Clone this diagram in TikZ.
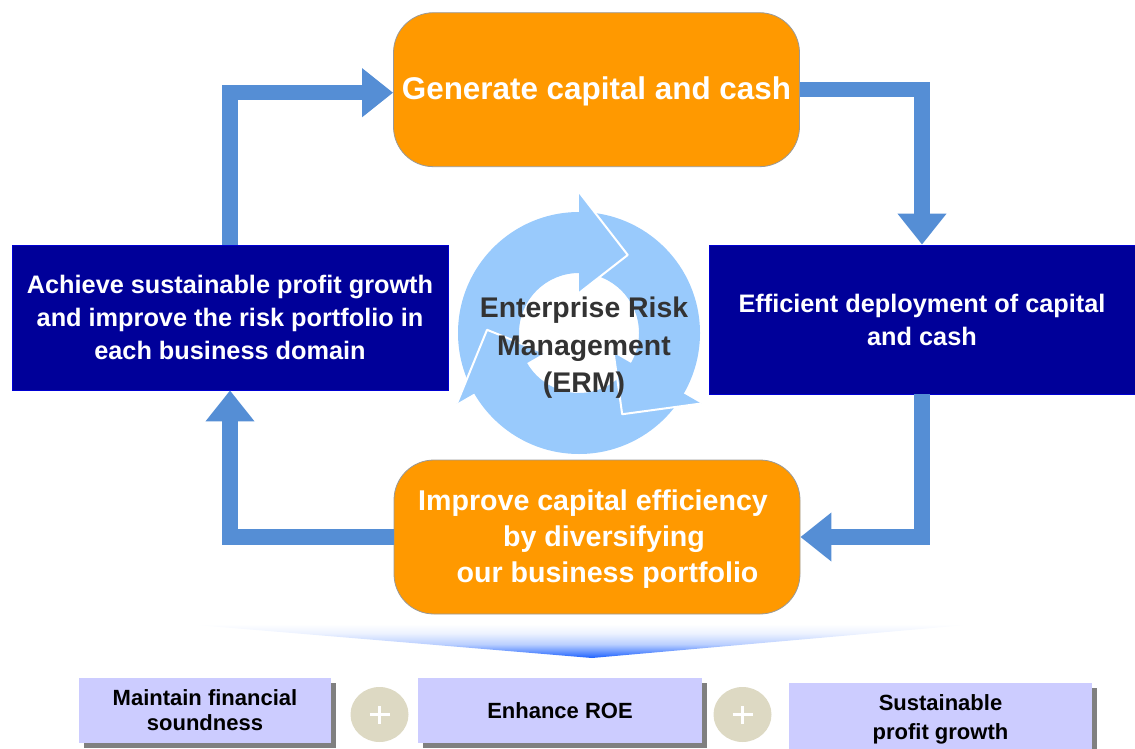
\documentclass[tikz,border=0pt]{standalone}
\usepackage{fontspec}
\setmainfont{Liberation Sans}
\usetikzlibrary{arrows.meta,shadows,shapes.geometric}

\definecolor{boxorange}{HTML}{FF9900}
\definecolor{boxnavy}{HTML}{000099}
\definecolor{flowblue}{HTML}{558ED5}
\definecolor{ringblue}{RGB}{153,202,252}
\definecolor{goalfill}{HTML}{CCCCFF}
\definecolor{plusfill}{HTML}{DDD9C3}
\definecolor{shadowgray}{HTML}{808080}
\definecolor{fanblue}{RGB}{25,95,255}
\definecolor{ermtext}{HTML}{333333}

% white at the top, deep blue at the point of the fan
\pgfdeclareverticalshading{fanshade}{100bp}{color(0bp)=(fanblue); color(25bp)=(fanblue); color(30bp)=(fanblue!75!white); color(40bp)=(fanblue!30!white); color(52bp)=(fanblue!8!white); color(62bp)=(white); color(100bp)=(white)}

\tikzset{
  obox/.style={draw=black!40, line width=0.8pt, fill=boxorange, rounded corners=40pt,
    minimum width=406pt, minimum height=154pt, inner sep=0pt, text=white, align=center},
  nbox/.style={draw=blue!55!boxnavy, line width=0.8pt, fill=boxnavy, inner sep=0pt,
    text=white, align=center, font=\bfseries\fontsize{25.3}{33}\selectfont},
  flow/.style={draw=flowblue, line width=15.6pt, line join=miter,
    -{Triangle[length=31pt, width=47pt]}},
  goal/.style={fill=goalfill, inner sep=0pt, align=center, text=black,
    drop shadow={shadow xshift=4.5pt, shadow yshift=-5pt, fill=shadowgray, opacity=1}},
  plusdisc/.style={ellipse, fill=plusfill, minimum width=58pt, minimum height=55pt, inner sep=0pt},
}

\begin{document}
\begin{tikzpicture}[x=1pt, y=-1pt]
\useasboundingbox (0,0) rectangle (1135,749);

% fan pointing down to the three goals
\shade[shading=fanshade] (160,612) -- (1000,612) -- (1000,622) -- (592,658) -- (160,622) -- cycle;

% cycle stages
\node[obox, text height=23pt, text depth=2.4pt, font=\bfseries\fontsize{31.4}{36}\selectfont] (tbox) at (596.5,89.7)
  {Generate capital and cash};
\node[obox, text depth=2pt, font=\bfseries\fontsize{28.6}{36}\selectfont] (bbox) at (597,537)
  {Improve capital efficiency\hspace*{8pt}\\\hspace*{14pt}by diversifying\\\hspace*{21pt}our business portfolio};
\node[nbox, minimum width=436pt, minimum height=145pt] (lbox) at (230,317.5)
  {Achieve sustainable profit growth\\and improve the risk portfolio in\\each business domain};
\node[nbox, minimum width=426pt, minimum height=149pt] (rbox) at (922,319.5)
  {Efficient deployment of capital\\and cash};

% ERM ring of three arrows running clockwise
\begin{scope}[shift={(579,333)}, yscale=-1]
  \fill[ringblue, even odd rule] (0,0) circle[radius=121] (0,0) circle[radius=60];
  \foreach \h in {90,-30,210} {
    \fill[ringblue] (\h:141) -- (\h-32:92) -- (\h:40) -- cycle;
    \draw[white, line width=2pt, line join=round] (\h:141) -- (\h-32:92) -- (\h:40);
  }
\end{scope}
\node[font=\bfseries\fontsize{28.4}{37.5}\selectfont, text=ermtext, align=center] (erm) at (584,348)
  {Enterprise Risk\\Management\\(ERM)};

% connectors of the cycle
\draw[flow] (lbox.north) |- ([yshift=-3pt]tbox.west);
\draw[flow] (tbox.east) -| (rbox.north);
\draw[flow] (rbox.south) |- (bbox.east);
\draw[flow] (bbox.west) -| (lbox.south);

% goals
\node[goal, minimum width=252pt, minimum height=65pt, font=\bfseries\fontsize{22}{25}\selectfont] (g1) at (205,710.5)
  {Maintain financial\\soundness};
\node[goal, minimum width=284pt, minimum height=65pt, font=\bfseries\fontsize{22}{25}\selectfont] (g2) at (560,710.5)
  {Enhance ROE};
\node[goal, minimum width=303pt, minimum height=72pt, font=\bfseries\fontsize{22}{29}\selectfont] (g3) at (940.5,719)
  {Sustainable\\profit growth};

\node[plusdisc] (p1) at (379.5,714.5) {};
\node[plusdisc] (p2) at (742.5,714.5) {};
\foreach \p in {p1,p2}
  \draw[white, line width=2.2pt] ([xshift=-10pt]\p.center) -- ([xshift=10pt]\p.center)
    ([yshift=-9pt]\p.center) -- ([yshift=9pt]\p.center);
\end{tikzpicture}
\end{document}
